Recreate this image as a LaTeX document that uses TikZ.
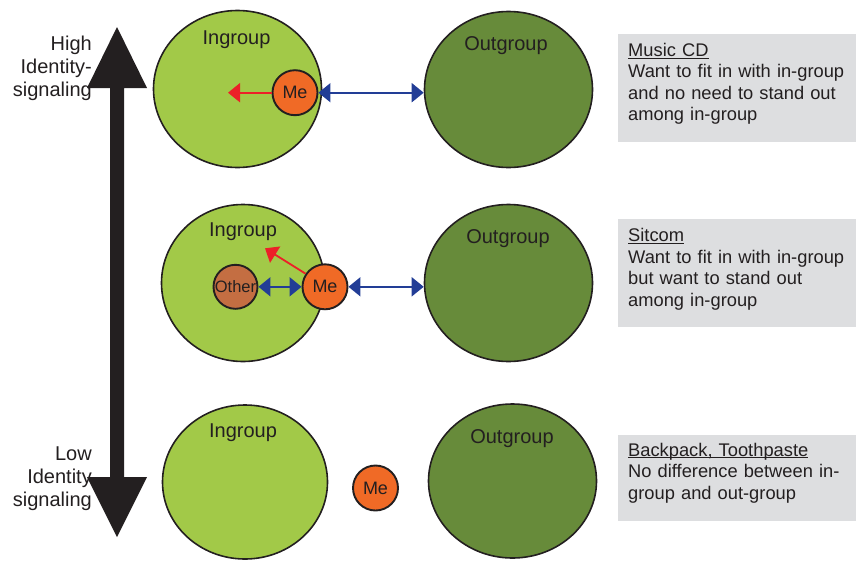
\documentclass[tikz,border=0pt]{standalone}
\usepackage{fontspec}
\setmainfont{Liberation Sans}
\usetikzlibrary{arrows.meta,shapes.geometric}
\definecolor{txt}{RGB}{35,31,32}
\definecolor{ingreen}{RGB}{162,201,72}
\definecolor{outgreen}{RGB}{103,139,58}
\definecolor{meorange}{RGB}{240,106,38}
\definecolor{otherbrown}{RGB}{196,110,66}
\definecolor{arrblue}{RGB}{34,61,150}
\definecolor{arrred}{RGB}{236,32,40}
\definecolor{boxgray}{RGB}{221,222,224}
\newcommand\ulx[1]{\leavevmode\setbox0\hbox{#1}\rlap{\rule[-2.3pt]{\wd0}{0.9pt}}\box0}
\tikzset{
 grp/.style={ellipse, draw=txt, line width=1.6pt, inner sep=0pt},
 ingrp/.style={grp, fill=ingreen},
 outgrp/.style={grp, fill=outgreen},
 me/.style={circle, draw=txt, line width=1.9pt, fill=meorange, minimum size=45pt, inner sep=0pt, text=txt, font=\fontsize{18}{20}\selectfont},
 other/.style={me, fill=otherbrown, minimum size=44pt, font=\fontsize{16.5}{18}\selectfont},
 grplabel/.style={font=\fontsize{20}{24}\selectfont, text=txt, anchor=base, inner sep=0pt},
 bluearr/.style={draw=arrblue, line width=1.9pt, {Triangle[length=12pt,width=19pt]}-{Triangle[length=12pt,width=19pt]}},
 redarr/.style={draw=arrred, line width=1.8pt, -{Triangle[length=12pt,width=19pt]}},
 infobox/.style={fill=boxgray, anchor=north west, minimum width=238pt, inner sep=0pt},
 infotext/.style={anchor=north west, text width=232pt, align=left, inner sep=0pt, font=\fontsize{18.3}{21.5}\selectfont, text=txt},
 axislabel/.style={anchor=north east, align=right, inner sep=0pt, font=\fontsize{20}{23}\selectfont, text=txt}
}
\begin{document}
\begin{tikzpicture}[x=1pt,y=-1pt]
\useasboundingbox (0,0) rectangle (856,560);

% big vertical arrow
\fill[txt] (117,27) -- (147,88) -- (124,88) -- (124,477) -- (147,477) -- (117,537)
  -- (87,477) -- (110,477) -- (110,88) -- (87,88) -- cycle;
\node[axislabel] (high) at (92,36) {High\\Identity-\\signaling};
\node[axislabel] (low) at (92,446.4) {Low\\Identity\\signaling};

% row 1
\node[ingrp, minimum width=168pt, minimum height=157pt] (in1) at (237.5,89) {};
\node[grplabel] (in1l) at (236.5,44) {Ingroup};
\node[outgrp, minimum width=168pt, minimum height=156pt] (og1) at (508.5,89.5) {};
\node[grplabel] (og1l) at (506,50) {Outgroup};
\node[me] (me1) at (295,92.7) {Me};
\coordinate (r1) at (228,92.7);
\draw[redarr] (me1.west) -- (r1);
\draw[bluearr] (me1.east) -- (me1.east -| og1.west);

% row 2
\node[ingrp, minimum width=163pt, minimum height=157pt] (in2) at (243,283) {};
\node[grplabel] (in2l) at (243,236.7) {Ingroup};
\node[outgrp, minimum width=168pt, minimum height=157pt] (og2) at (508.5,283) {};
\node[grplabel] (og2l) at (508,243) {Outgroup};
\node[other] (oth) at (235.5,286.8) {Other};
\node[me] (me2) at (325,286.8) {Me};
\coordinate (r2) at (265,248.3);
\draw[redarr] (me2.146) -- (r2);
\draw[bluearr] (oth.east) -- (me2.west);
\draw[bluearr] (me2.east) -- (me2.east -| og2.west);

% row 3
\node[ingrp, minimum width=165pt, minimum height=154pt] (in3) at (245,482) {};
\node[grplabel] (in3l) at (243,437) {Ingroup};
\node[outgrp, minimum width=168pt, minimum height=154pt] (og3) at (512.5,481) {};
\node[grplabel] (og3l) at (512,443) {Outgroup};
\node[me] (me3) at (375.5,488) {Me};

% info boxes
\node[infobox, minimum height=108pt] (b1) at (618,34) {};
\node[infotext] (t1) at (628,42.9) {\ulx{Music CD}\\Want to fit in with in-group\\and no need to stand out\\among in-group};
\node[infobox, minimum height=108pt] (b2) at (618,219) {};
\node[infotext] (t2) at (628,228.3) {\ulx{Sitcom}\\Want to fit in with in-group\\but want to stand out\\among in-group};
\node[infobox, minimum height=86pt] (b3) at (618,435) {};
\node[infotext] (t3) at (628,442.6) {\ulx{Backpack, Toothpaste}\\No difference between in-\\group and out-group};
\end{tikzpicture}
\end{document}
